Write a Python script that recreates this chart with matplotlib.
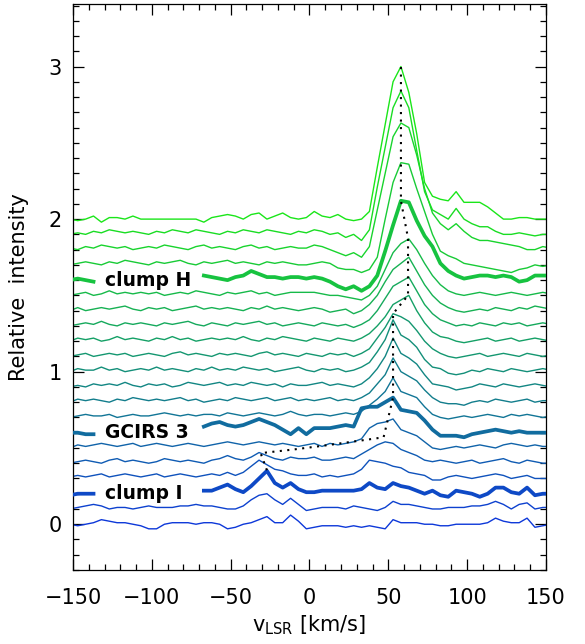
import numpy as np
import matplotlib
matplotlib.use("Agg")
import matplotlib.pyplot as plt
from matplotlib.ticker import MultipleLocator

plt.rcParams['font.family'] = ['DejaVu Sans']
plt.rcParams['mathtext.default'] = 'regular'

# channel velocities (km/s), 5 km/s spacing
velocity = np.arange(-152, 154, 5)

# vertical offsets of the stacked spectra
offsets = [0.0, 0.1, 0.2, 0.3, 0.4, 0.5, 0.6, 0.7, 0.8, 0.9, 1.0,
           1.1, 1.2, 1.3, 1.4, 1.5, 1.6, 1.7, 1.8, 1.9, 2.0]

# spectra above their offset, in units of 0.01
s00 = [0, -1, 0, 1, 3, 2, 1, 1, 0, -1, -3, -3, 0, 1, 1, 1, 0, 1, 1, 0,
       -3, -2, 0, 1, 3, 5, 1, 1, 6, 2, -3, -2, -1, -1, -1, -2, -1, -2, -1, -2,
       -3, 3, 1, 1, 1, 0, 0, -1, -1, 0, 0, 0, 0, 1, 4, 2, 1, 1, 4, -2, -1, 0]
s01 = [0, 1, 2, 3, 2, 0, 1, 1, 0, 1, 2, 1, 1, 1, 2, 2, 3, 2, 2, 1,
       0, 0, 2, 6, 9, 10, 6, 3, 7, 3, -1, 0, 1, 1, 1, 0, 2, 1, 0, -1,
       1, 5, 3, 3, 2, 1, 0, 0, 1, 1, 1, 2, 2, 3, 5, 3, 0, 3, 4, 0, 1, 1]
s02 = [-1, 0, 0, 0, 1, 1, 0, 1, 1, 0, 1, 0, 1, 1, 0, 1, 1, 2, 2, 4,
       6, 3, 1, 5, 10, 15, 7, 4, 7, 3, 1, 1, 2, 2, 2, 2, 2, 3, 7, 4,
       3, 7, 5, 4, 2, 0, 2, -1, -2, 2, 1, 0, -2, 0, 4, 4, 1, 0, 4, -1, 0, 0]
s03 = [1, 2, 1, 2, 3, 1, 2, 3, 2, 1, 2, 3, 1, 2, 3, 2, 1, 2, 3, 2,
       4, 2, 4, 8, 12, 9, 6, 5, 3, 2, 2, 3, 1, 2, 1, 2, 3, 6, 12, 11,
       10, 8, 7, 4, 3, 2, -1, -1, 1, 2, 1, 0, 1, 2, 3, 2, 0, 1, 2, 0, 0, 0]
s04 = [0, 1, 2, 1, 0, 2, 3, 1, 2, 1, 0, 1, 3, 2, 1, 2, 1, 0, 2, 3,
       5, 3, 2, 4, 7, 5, 3, 2, 4, 3, 3, 4, 2, 2, 3, 4, 3, 6, 9, 12,
       14, 13, 9, 7, 5, 2, 1, 2, 1, 0, 1, 2, 0, 1, 2, 3, 1, 0, 2, 1, 0, 0]
s05 = [0, 2, 1, 2, 3, 2, 1, 2, 3, 1, 2, 3, 2, 1, 2, 3, 2, 1, 2, 3,
       4, 3, 2, 3, 4, 3, 2, 3, 2, 1, 2, 3, 1, 3, 2, 3, 4, 6, 13, 16,
       17, 19, 12, 10, 8, 4, 0, -1, 0, 1, 0, 1, 2, 1, 0, 2, 3, 2, 1, 2, 1, 1]
s06 = [0, 0, -1, -1, 0, 0, 0, 0, 0, 0, 0, 0, 0, 0, 0, 0, 0, 4, 6, 7,
       5, 4, 5, 7, 9, 7, 5, 2, -1, 3, -1, 3, 3, 3, 4, 5, 4, 16, 17, 17,
       20, 23, 15, 14, 13, 8, 2, -2, -2, -2, -3, -1, 0, 1, 2, 1, 0, 1, 0, 0, 0, 0]
s07 = [0, 1, 2, 1, 1, 2, 0, 1, 2, 1, 1, 2, 3, 2, 1, 2, 1, 2, 2, 1,
       3, 2, 1, 2, 3, 2, 1, 2, 4, 2, 1, 2, 2, 1, 2, 3, 2, 4, 8, 12,
       17, 26, 17, 15, 13, 7, 2, 0, -1, 0, 1, 0, 1, 2, 1, 0, 2, 1, 2, 1, 0, 1]
s08 = [0, 2, 1, 2, 1, 0, 2, 1, 3, 2, 1, 2, 1, 2, 3, 1, 2, 0, 1, 2,
       1, 3, 2, 1, 2, 3, 1, 2, 3, 1, 2, 1, 2, 3, 1, 2, 1, 3, 6, 12,
       18, 29, 20, 17, 14, 8, 3, 0, -1, -1, -2, 0, 1, 0, 2, 1, 0, 1, 2, 0, 1, 1]
s09 = [0, 1, 0, 2, 1, 2, 1, 3, 1, 0, 2, 1, 2, 0, 1, 3, 2, 1, 2, 3,
       1, 2, 1, 3, 2, 1, 2, 0, 2, 1, 1, 2, 3, 1, 2, 1, 0, 2, 6, 12,
       20, 32, 22, 19, 15, 8, 2, 1, 0, -2, -1, 0, 2, 1, 0, 2, 1, 0, 1, 2, 1, 0]
s10 = [0, 2, 1, 1, 3, 1, 2, 0, 1, 2, 1, 3, 1, 2, 1, 0, 2, 1, 3, 1,
       2, 1, 3, 2, 1, 2, 0, 1, 2, 3, 1, 0, 2, 1, 2, 0, 1, 3, 6, 13,
       21, 34, 24, 21, 16, 8, 3, 2, -1, -2, -1, 1, 0, 2, 1, 0, 2, 1, 0, 1, 2, 1]
s11 = [0, 1, 2, 0, 1, 2, 1, 2, 0, 1, 2, 1, 0, 2, 3, 1, 2, 1, 0, 2,
       1, 2, 1, 0, 2, 3, 1, 2, 1, 0, 2, 1, 0, 2, 1, 2, 0, 2, 5, 12,
       19, 28, 26, 23, 17, 10, 5, 2, 0, -1, 0, 1, 2, 0, 1, 2, 1, 0, 2, 1, 0, 1]
s12 = [0, 2, 1, 2, 0, 1, 3, 1, 2, 1, 0, 2, 1, 3, 1, 2, 0, 1, 2, 1,
       2, 1, 3, 1, 0, 2, 1, 3, 2, 1, 0, 2, 1, 0, 2, 1, 0, 2, 5, 10,
       16, 24, 27, 30, 20, 12, 6, 3, 2, 0, -1, 0, 1, 2, 0, 1, 2, 0, 1, 2, 1, 0]
s13 = [0, 1, 2, 1, 3, 1, 0, 2, 1, 2, 1, 0, 2, 1, 2, 3, 1, 0, 2, 1,
       0, 2, 1, 2, 3, 1, 2, 0, 1, 2, 1, 0, 2, 1, 0, 1, -1, 1, 4, 10,
       18, 26, 29, 32, 23, 14, 8, 4, 2, 0, 1, 0, 2, 1, 0, 2, 1, 2, 0, 1, 2, 1]
s14 = [0, 2, 0, 1, 2, 1, 2, 3, 1, 0, 2, 1, 2, 0, 1, 2, 3, 1, 2, 1,
       2, 1, 0, 2, 1, 3, 1, 2, 1, 0, 1, 2, 1, -1, 0, 1, -2, 0, 4, 10,
       19, 27, 31, 35, 26, 17, 10, 5, 2, 0, -1, 0, 1, 0, 2, 1, 0, 2, 1, 3, 2, 1]
s15 = [0, 1, 2, 0, 1, 3, 1, 2, 1, 2, 1, 2, 0, 1, 2, 1, 3, 2, 1, 0,
       2, 1, 2, 3, 1, 2, 0, 1, 2, 2, 2, 2, 1, 0, 0, -1, -2, -3, 0, 6,
       17, 28, 34, 37, 30, 21, 13, 7, 3, 1, 0, 1, 2, 1, 0, 1, 2, 1, 0, 1, 2, 1]
s16 = [0, 1, 0, -1, 0, 0, 0, 0, 0, 0, 0, 0, 0, 0, 0, 0, 0, 3, 2, 1,
       0, 2, 3, 6, 4, 2, 2, 1, 2, 2, 1, 2, 1, -1, -4, -6, -4, -7, -4, 3,
       19, 36, 52, 51, 39, 29, 22, 11, 6, 3, 1, 2, 3, 3, 2, 3, 2, -1, 0, 3, 3, 3]
s17 = [0, 1, 2, 1, 0, 2, 1, 3, 2, 1, 0, 2, 1, 2, 3, 1, 0, 2, 1, 2,
       3, 1, 2, 1, 0, 2, 1, 2, 1, 0, 0, 1, 2, 1, -2, -3, -3, -5, -3, 5,
       30, 54, 67, 66, 50, 35, 20, 9, 6, 4, 1, 0, -1, -2, -3, -4, -5, -3, -2, 0, -1, 0]
s18 = [1, 0, 2, 1, 3, 2, 1, 2, 0, 1, 2, 1, 3, 2, 1, 0, 2, 3, 1, 2,
       1, 0, 2, 3, 1, 2, 0, 1, 2, 1, 1, 3, 2, 0, -2, -4, -2, -5, 2, 26,
       50, 74, 83, 80, 62, 40, 24, 17, 13, 17, 12, 8, 6, 6, 5, 4, 3, 2, 0, 0, 2, 1]
s19 = [0, 1, 0, 2, 1, 3, 2, 1, 2, 1, 0, 2, 1, 3, 2, 1, 3, 2, 1, 0,
       2, 1, 3, 2, 1, 3, 2, 1, 0, 2, 1, 3, 2, 0, 1, -2, 0, -4, 3, 31,
       57, 83, 94, 83, 55, 28, 16, 13, 10, 17, 10, 7, 5, 5, 2, 0, 0, 1, 0, -1, 0, 0]
s20 = [0, -1, 0, 2, -2, 1, 1, 0, 2, 0, 0, 0, 0, 0, 0, 0, 0, -2, 1, 2,
       3, 2, 0, 3, 4, 0, 2, 4, 1, 0, 1, 5, 2, 1, 3, 0, -1, 0, 5, 34,
       62, 90, 100, 83, 56, 24, 15, 13, 12, 18, 11, 11, 11, 8, 4, 0, 0, 1, 1, 0, 0, 0]
spectra = [s00, s01, s02, s03, s04, s05, s06, s07, s08, s09, s10,
           s11, s12, s13, s14, s15, s16, s17, s18, s19, s20]

# labelled (thick) spectra
label_rows = [2, 6, 16]
label_names = ["clump I", "GCIRS 3", "clump H"]

# dotted trace of the emission peak
trace_v = [-27, -31, -10, 9, 37, 47, 53, 53, 62.5, 62.5, 58, 58]
trace_i = [0.354, 0.466, 0.49, 0.515, 0.555, 0.57, 0.83, 1.38, 1.50, 1.875, 2.12, 3.00]

c_blue = np.array([0.05, 0.22, 0.85])
c_green = np.array([0.10, 0.90, 0.10])

fig = plt.figure(figsize=(5.85, 6.44), dpi=100)
ax = fig.add_axes([0.1248, 0.1149, 0.8085, 0.8789])

gap = (velocity > -135) & (velocity < -68)
for k, (off, sp) in enumerate(zip(offsets, spectra)):
    y = off + np.array(sp) / 100.0
    col = c_blue + (c_green - c_blue) * k / (len(offsets) - 1)
    if k in label_rows:
        y[gap] = np.nan
        ax.plot(velocity, y, color=col, lw=2.7, zorder=3, solid_joinstyle='round')
        ax.text(-130, off, label_names[label_rows.index(k)], fontsize=13.5,
                fontweight='bold', ha='left', va='center', zorder=5)
    else:
        ax.plot(velocity, y, color=col, lw=1.0, zorder=2)

ax.plot(trace_v, trace_i, color='black', ls=(0, (1, 2.6)), lw=1.5, zorder=4)

ax.set_xlim(-150, 150)
ax.set_ylim(-0.3, 3.41)
ax.set_xticks([-150, -100, -50, 0, 50, 100, 150])
ax.set_yticks([0, 1, 2, 3])
ax.xaxis.set_minor_locator(MultipleLocator(10))
ax.yaxis.set_minor_locator(MultipleLocator(0.1))
ax.tick_params(which='both', direction='in', top=True, right=True, width=0.9)
ax.tick_params(which='major', length=8, labelsize=15)
ax.tick_params(axis='x', which='major', pad=13)
ax.tick_params(axis='y', which='major', pad=8)
ax.tick_params(which='minor', length=4)
for sp in ax.spines.values():
    sp.set_linewidth(0.9)

ax.set_xlabel('v$_{LSR}$ [km/s]', fontsize=15, labelpad=4)
ax.set_ylabel('Relative  intensity', fontsize=15, labelpad=14)

fig.savefig('out.png', dpi=100)
